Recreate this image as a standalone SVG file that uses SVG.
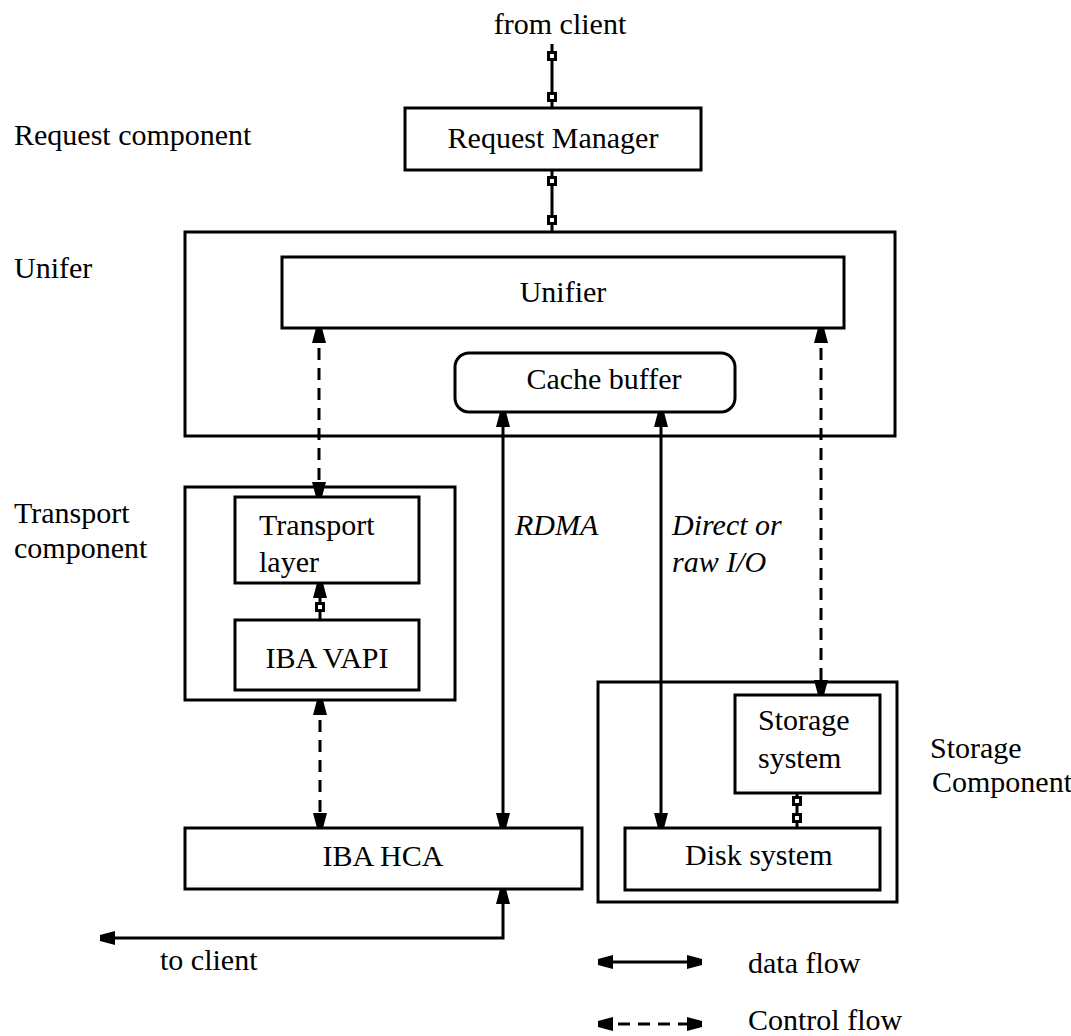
<svg xmlns="http://www.w3.org/2000/svg" width="1071" height="1036" viewBox="0 0 1071 1036">
  <style>
    .box{fill:none;stroke:#000;stroke-width:3}
    .t{font-family:"Liberation Serif","Times New Roman",serif;font-size:30px;fill:#000}
    .i{font-style:italic}
    .m{text-anchor:middle}
    .flow{fill:none;stroke:#000;stroke-width:3}
    .ctl{stroke-dasharray:12 8}
  </style>
  <defs>
    <!-- small solid arrowhead: wide base, narrow tip at the target -->
    <marker id="ah" markerUnits="userSpaceOnUse" viewBox="0 -7 15 14" refX="15" refY="0" markerWidth="15" markerHeight="14" orient="auto-start-reverse">
      <path d="M0,-7 L15,-3 L15,3 L0,7 Z" fill="#000"/>
    </marker>
    <!-- small hollow knob used on request/control links -->
    <g id="knob">
      <rect x="-5" y="-5" width="10" height="10" fill="#000"/>
      <rect x="-2" y="-2" width="4" height="4" fill="#fff"/>
    </g>
  </defs>

  <rect width="1071" height="1036" fill="#fff"/>

  <!-- free-standing labels -->
  <g id="labels">
    <text class="t m" x="560" y="34">from client</text>
    <text class="t" x="14" y="145">Request component</text>
    <text class="t" x="14" y="278">Unifer</text>
    <text class="t" x="14" y="523">Transport</text>
    <text class="t" x="14" y="558">component</text>
    <text class="t" x="930" y="758">Storage</text>
    <text class="t" x="932" y="792">Component</text>
    <text class="t i" x="515" y="535">RDMA</text>
    <text class="t i" x="672" y="535">Direct or</text>
    <text class="t i" x="672" y="572">raw I/O</text>
    <text class="t" x="160" y="970">to client</text>
  </g>

  <!-- nodes -->
  <g id="request-manager">
    <rect class="box" x="405" y="108" width="296" height="62"/>
    <text class="t m" x="553" y="148">Request Manager</text>
  </g>
  <g id="unifier-component">
    <rect class="box" x="185" y="232" width="710" height="204"/>
  </g>
  <g id="unifier">
    <rect class="box" x="282" y="257" width="562" height="71"/>
    <text class="t m" x="563" y="302">Unifier</text>
  </g>
  <g id="cache-buffer">
    <rect class="box" x="455" y="353" width="280" height="59" rx="14"/>
    <text class="t m" x="604" y="389">Cache buffer</text>
  </g>
  <g id="transport-component">
    <rect class="box" x="185" y="487" width="270" height="213"/>
  </g>
  <g id="transport-layer">
    <rect class="box" x="235" y="497" width="184" height="86"/>
    <text class="t" x="259" y="535">Transport</text>
    <text class="t" x="259" y="572">layer</text>
  </g>
  <g id="iba-vapi">
    <rect class="box" x="235" y="620" width="184" height="70"/>
    <text class="t m" x="327" y="668">IBA VAPI</text>
  </g>
  <g id="iba-hca">
    <rect class="box" x="185" y="828" width="397" height="61"/>
    <text class="t m" x="383" y="866">IBA HCA</text>
  </g>
  <g id="storage-component">
    <rect class="box" x="598" y="682" width="299" height="220"/>
  </g>
  <g id="storage-system">
    <rect class="box" x="735" y="695" width="145" height="98"/>
    <text class="t" x="758" y="730">Storage</text>
    <text class="t" x="758" y="768">system</text>
  </g>
  <g id="disk-system">
    <rect class="box" x="625" y="828" width="255" height="62"/>
    <text class="t" x="685" y="865">Disk system</text>
  </g>

  <!-- connectors -->
  <g id="connectors">
    <line class="flow" x1="552" y1="44" x2="552" y2="108"/>
    <use href="#knob" x="552" y="56"/>
    <use href="#knob" x="552" y="97"/>
    <line class="flow" x1="552" y1="170" x2="552" y2="232"/>
    <use href="#knob" x="552" y="181"/>
    <use href="#knob" x="552" y="220"/>

    <line class="flow ctl" x1="319" y1="328" x2="319" y2="497" marker-start="url(#ah)" marker-end="url(#ah)"/>
    <line class="flow ctl" x1="821" y1="328" x2="821" y2="695" marker-start="url(#ah)" marker-end="url(#ah)"/>
    <line class="flow" x1="503" y1="412" x2="503" y2="828" marker-start="url(#ah)" marker-end="url(#ah)"/>
    <line class="flow" x1="661" y1="412" x2="661" y2="828" marker-start="url(#ah)" marker-end="url(#ah)"/>

    <line class="flow" x1="320" y1="583" x2="320" y2="620" marker-start="url(#ah)"/>
    <use href="#knob" x="320" y="607"/>
    <line class="flow ctl" x1="320" y1="700" x2="320" y2="828" marker-start="url(#ah)" marker-end="url(#ah)"/>

    <line class="flow" x1="797" y1="793" x2="797" y2="828"/>
    <use href="#knob" x="797" y="801"/>
    <use href="#knob" x="797" y="818"/>

    <path class="flow" d="M503,889 V938 H100" marker-start="url(#ah)" marker-end="url(#ah)"/>
  </g>

  <!-- legend -->
  <g id="legend">
    <line class="flow" x1="598" y1="962" x2="702" y2="962" marker-start="url(#ah)" marker-end="url(#ah)"/>
    <text class="t" x="748" y="973">data flow</text>
    <line class="flow ctl" x1="598" y1="1024" x2="702" y2="1024" marker-start="url(#ah)" marker-end="url(#ah)"/>
    <text class="t" x="748" y="1030">Control flow</text>
  </g>
</svg>
